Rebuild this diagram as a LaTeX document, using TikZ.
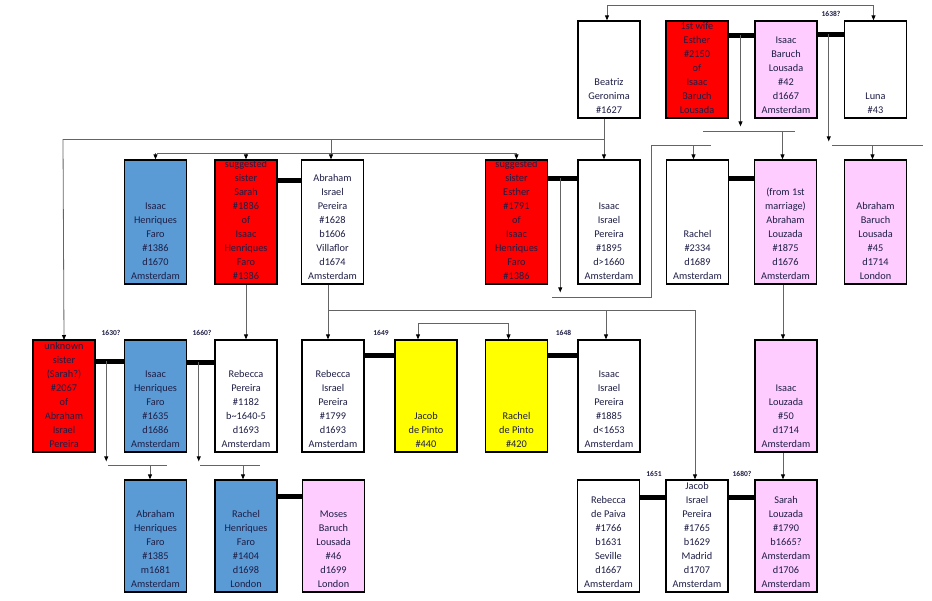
\documentclass[tikz,border=0pt]{standalone}
\usepackage{fontspec}
\setmainfont{Carlito}
\usepackage{tikz}
\usetikzlibrary{calc}
\usetikzlibrary{arrows.meta}

\definecolor{famred}{RGB}{255,0,0}
\definecolor{famblue}{RGB}{91,155,213}
\definecolor{fampink}{RGB}{255,204,255}
\definecolor{famyellow}{RGB}{255,255,0}
\definecolor{famtext}{RGB}{30,30,70}
\definecolor{famline}{RGB}{100,100,100}

\newcommand{\who}[2]{\parbox[c][#1][b]{62pt}{\centering #2\par\vspace{4.5pt}}}

\begin{document}
\begin{tikzpicture}[x=1pt,y=-1pt,
 person/.style={draw,line width=1.3pt,inner sep=0pt,fill=white,text=famtext,font=\fontsize{10.3}{14}\selectfont},
 bar/.style={line width=4.5pt},
 link/.style={famline,line width=.8pt},
 arr/.style={link,-{Triangle[length=5pt,width=4pt,color=black]}},
 arrs/.style={link,{Triangle[length=5pt,width=4pt,color=black]}-{Triangle[length=5pt,width=4pt,color=black]}},
 year/.style={font=\fontsize{7.5}{8}\bfseries\selectfont,text=famtext}]

\useasboundingbox (0,0) rectangle (932,600);

\node[person] (beatriz) at (609,69.5) {\who{97pt}{Beatriz\\Geronima\\\#1627}};
\node[person,fill=famred] (esther) at (697,69.5) {\who{97pt}{1st wife\\Esther\\\#2150\\of\\Isaac\\Baruch\\Lousada}};
\node[person,fill=fampink] (isaacB) at (786,69.5) {\who{97pt}{Isaac\\Baruch\\Lousada\\\#42\\d1667\\Amsterdam}};
\node[person] (luna) at (875.5,69.5) {\who{97pt}{Luna\\\#43}};

\node[person,fill=famblue] (faroA) at (155.5,222) {\who{124pt}{Isaac\\Henriques\\Faro\\\#1386\\d1670\\Amsterdam}};
\node[person,fill=famred] (sarahS) at (246,222) {\who{124pt}{suggested\\sister\\Sarah\\\#1886\\of\\Isaac\\Henriques\\Faro\\\#1386}};
\node[person] (abrahamP) at (332.5,222) {\who{124pt}{Abraham\\Israel\\Pereira\\\#1628\\b1606\\Villaflor\\d1674\\Amsterdam}};
\node[person,fill=famred] (estherS) at (516.5,222) {\who{124pt}{suggested\\sister\\Esther\\\#1791\\of\\Isaac\\Henriques\\Faro\\\#1386}};
\node[person] (isaacP) at (609,222) {\who{124pt}{Isaac\\Israel\\Pereira\\\#1895\\d>1660\\Amsterdam}};
\node[person] (rachel) at (697.5,222) {\who{124pt}{Rachel\\\#2334\\d1689\\Amsterdam}};
\node[person,fill=fampink] (abrahamL) at (785.5,222) {\who{124pt}{(from 1st\\marriage)\\Abraham\\Louzada\\\#1875\\d1676\\Amsterdam}};
\node[person,fill=fampink] (abrahamB) at (875.5,222) {\who{124pt}{Abraham\\Baruch\\Lousada\\\#45\\d1714\\London}};

\node[person,fill=famred] (unknown) at (64,396) {\who{112pt}{unknown\\sister\\(Sarah?)\\\#2067\\of\\Abraham\\Israel\\Pereira}};
\node[person,fill=famblue] (faroB) at (155.5,396) {\who{112pt}{Isaac\\Henriques\\Faro\\\#1635\\d1686\\Amsterdam}};
\node[person] (rebeccaP) at (246,396) {\who{112pt}{Rebecca\\Pereira\\\#1182\\b\textasciitilde1640-5\\d1693\\Amsterdam}};
\node[person] (rebeccaI) at (333,396) {\who{112pt}{Rebecca\\Israel\\Pereira\\\#1799\\d1693\\Amsterdam}};
\node[person,fill=famyellow] (jacobP) at (426,396) {\who{112pt}{Jacob\\de Pinto\\\#440}};
\node[person,fill=famyellow] (rachelP) at (516.5,396) {\who{112pt}{Rachel\\de Pinto\\\#420}};
\node[person] (isaacI) at (609,396) {\who{112pt}{Isaac\\Israel\\Pereira\\\#1885\\d<1653\\Amsterdam}};
\node[person,fill=fampink] (isaacL) at (786,396) {\who{112pt}{Isaac\\Louzada\\\#50\\d1714\\Amsterdam}};

\node[person,fill=famblue] (abrahamF) at (155.5,536) {\who{112pt}{Abraham\\Henriques\\Faro\\\#1385\\m1681\\Amsterdam}};
\node[person,fill=famblue] (rachelF) at (246,536) {\who{112pt}{Rachel\\Henriques\\Faro\\\#1404\\d1698\\London}};
\node[person,fill=fampink] (moses) at (333.5,536) {\who{112pt}{Moses\\Baruch\\Lousada\\\#46\\d1699\\London}};
\node[person] (rebeccaD) at (608.5,536) {\who{112pt}{Rebecca\\de Paiva\\\#1766\\b1631\\Seville\\d1667\\Amsterdam}};
\node[person] (jacobI) at (697,536) {\who{112pt}{Jacob\\Israel\\Pereira\\\#1765\\b1629\\Madrid\\d1707\\Amsterdam}};
\node[person,fill=fampink] (sarahL) at (786,536) {\who{112pt}{Sarah\\Louzada\\\#1790\\b1665?\\Amsterdam\\d1706\\Amsterdam}};

\foreach \a/\b/\d/\m in {esther/isaacB/15/wedA, isaacB/luna/14/wedB, sarahS/abrahamP/21/wedC,
  estherS/isaacP/19/wedE, rachel/abrahamL/19/wedD, unknown/faroB/22/wedF, faroB/rebeccaP/23/wedG,
  rebeccaI/jacobP/16/wedH, rachelP/isaacI/16/wedI, rachelF/moses/17/wedJ,
  rebeccaD/jacobI/18/wedK, jacobI/sarahL/18/wedL}
 \draw[bar] ([yshift=-\d pt]\a.north east) -- coordinate (\m) ([yshift=-\d pt]\b.north west);

\foreach \n/\x/\y/\t in {a/831/14/1638?, b/111/333/1630?, c/202/333/1660?, d/381/333/1649,
  e/563.5/333/1648, f/654/474/1651, g/742/474/1680?}
 \node[year] (year\n) at (\x,\y) {\t};

\coordinate (top) at (0,5);
\coordinate (kidsA) at (703,131);
\coordinate (kidsB) at (832,145);
\coordinate (kidsC) at (63,139);
\coordinate (kidsD) at (157,153);
\coordinate (kidsE) at (328,310);
\coordinate (kidsF) at (552,297);
\coordinate (kidsG) at (651,145);
\coordinate (kidsH) at (108,465);
\coordinate (kidsI) at (200,465);

\draw[arrs] ([xshift=-2pt]beatriz.north) -- ([xshift=-2pt]beatriz.north |- top) -| ([xshift=-2pt]luna.north);

\draw[arr] ([xshift=-1pt]wedA) -- ++(0,91);
\draw[link] (kidsA) -- ++(92,0);
\draw[arr] ([xshift=-3pt]abrahamL.north |- kidsA) -- ([xshift=-3pt]abrahamL.north);

\draw[arr] ([xshift=-2pt]wedB) -- ++(0,107);
\draw[link] (kidsB) -- (923,145);
\draw[arr] ([xshift=-3pt]abrahamB.north |- kidsB) -- ([xshift=-3pt]abrahamB.north);

\draw[link] ([xshift=-5pt]beatriz.south) |- (kidsC);
\draw[arr] ([xshift=-5pt]beatriz.south) -- ([xshift=-5pt]isaacP.north);
\draw[arr] (kidsC) -- (unknown.north |- 0,340);
\draw[arr] ([xshift=-1.5pt]abrahamP.north |- kidsC) -- ([xshift=-1.5pt]abrahamP.north);
\draw[link] (kidsD) -- (estherS.north |- kidsD);
\foreach \n in {faroA, sarahS, estherS}
 \draw[arr] (\n.north |- kidsD) -- (\n.north);

\draw[arr] (sarahS.south) -- (rebeccaP.north);
\draw[arr] ([xshift=-4.5pt]abrahamP.south) -- ([xshift=-5pt]rebeccaI.north);
\draw[arr] (kidsE) -| ([xshift=-2pt]jacobI.north);
\draw[arr] ([xshift=-3pt]isaacI.north |- kidsE) -- ([xshift=-3pt]isaacI.north);
\draw[arrs] ([xshift=-8pt]jacobP.north) -- ++(0,-16) -| ([xshift=-8pt]rachelP.north);

\draw[arr] ([xshift=-2.5pt]wedE) -- ++(0,114);
\draw[link] (kidsF) -| (kidsG) -- ++(60,0);
\draw[arr] ([xshift=-4pt]rachel.north |- kidsG) -- ([xshift=-4pt]rachel.north);

\draw[arr] ([xshift=-2.5pt]abrahamL.south) -- ([xshift=-3pt]isaacL.north);
\draw[arr] ([xshift=-3pt]isaacL.south) -- ([xshift=-3pt]sarahL.north);

\draw[arr] ([xshift=-3.5pt]wedF) -- ++(0,100);
\draw[link] (kidsH) -- ++(59,0);
\draw[arr] ([xshift=-5.5pt]abrahamF.north |- kidsH) -- ([xshift=-5.5pt]abrahamF.north);
\draw[arr] ([xshift=-2pt]wedG) -- ++(0,99);
\draw[link] (kidsI) -- ++(60,0);
\draw[arr] ([xshift=-3pt]rachelF.north |- kidsI) -- ([xshift=-3pt]rachelF.north);
\end{tikzpicture}
\end{document}
